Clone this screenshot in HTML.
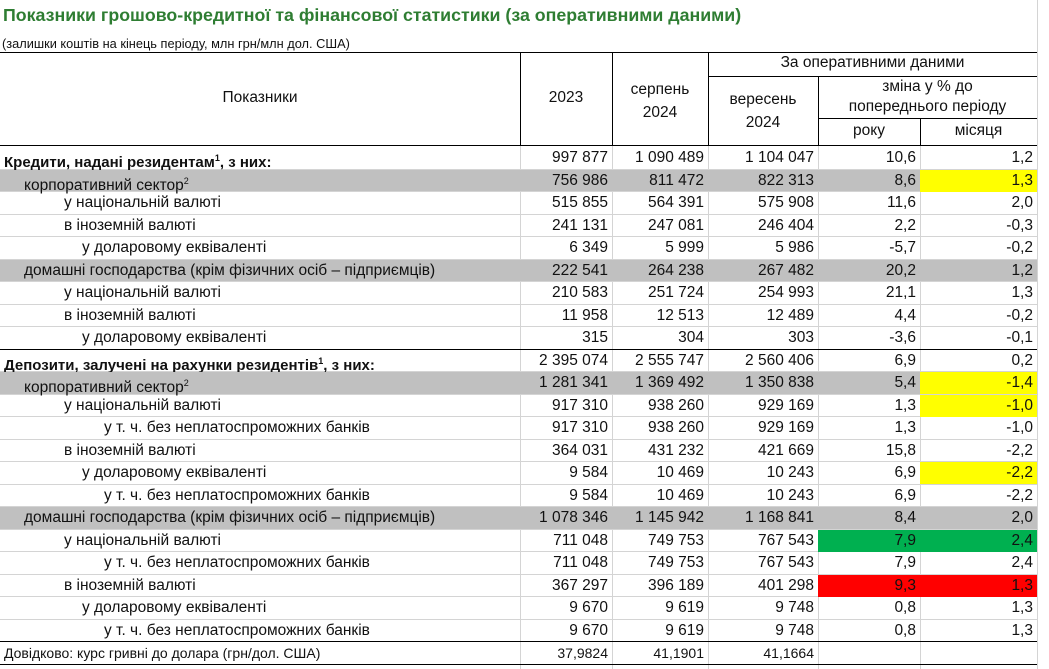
<!DOCTYPE html>
<html><head><meta charset="utf-8"><style>
*{margin:0;padding:0;box-sizing:border-box}
body{width:1049px;height:669px;background:#fff;position:relative;overflow:hidden;font-family:"Liberation Sans",sans-serif;font-size:15.5px;color:#111}
.a{position:absolute;white-space:nowrap}
.r{position:absolute;left:0;width:1037px;height:22.5px;border-bottom:1px solid #d4d4d4}
.r div{position:absolute;top:0;height:22px;line-height:22px;white-space:nowrap}
.g{background:#c0c0c0}
.l{left:4px}
.c{text-align:right;padding-right:4px}
.c1{left:520px;width:92px}.c2{left:612px;width:96px}.c3{left:708px;width:110px}.c4{left:818px;width:102px}.c5{left:920px;width:117px}
.y{background:#ffff00}.gr{background:#00b050}.rd{background:#ff0000}
.b{font-weight:bold;font-size:15px}
sup{font-size:9px}
.vl{position:absolute;width:1px;background:#d4d4d4}
.hk{position:absolute;background:#000}
</style></head><body>
<div class="a" style="left:3px;top:5px;font-size:17.8px;font-weight:bold;color:#2e7d32">Показники грошово-кредитної та фінансової статистики (за оперативними даними)</div>
<div class="a" style="left:2px;top:36px;font-size:12.8px">(залишки коштів на кінець періоду, млн грн/млн дол. США)</div>

<div class="vl" style="left:520px;top:52px;height:617px"></div>
<div class="vl" style="left:612px;top:52px;height:617px"></div>
<div class="vl" style="left:708px;top:52px;height:617px"></div>
<div class="vl" style="left:818px;top:76px;height:593px"></div>
<div class="vl" style="left:920px;top:118px;height:551px"></div>
<div class="vl" style="left:1037px;top:0;height:669px"></div>
<div class="hk" style="left:0;top:52px;width:1037px;height:1px"></div>
<div class="hk" style="left:520px;top:52px;width:1px;height:93px"></div>
<div class="hk" style="left:612px;top:52px;width:1px;height:93px"></div>
<div class="hk" style="left:708px;top:52px;width:1px;height:93px"></div>
<div class="hk" style="left:708px;top:76px;width:329px;height:1px"></div>
<div class="hk" style="left:818px;top:76px;width:1px;height:69px"></div>
<div class="hk" style="left:818px;top:118px;width:219px;height:1px"></div>
<div class="hk" style="left:920px;top:118px;width:1px;height:27px"></div>
<div class="hk" style="left:0;top:145px;width:1037px;height:1px"></div>
<div class="a" style="left:0;width:520px;text-align:center;top:89px">Показники</div>
<div class="a" style="left:520px;width:92px;text-align:center;top:89px">2023</div>
<div class="a" style="left:612px;width:96px;text-align:center;top:78px;line-height:23px">серпень<br>2024</div>
<div class="a" style="left:708px;width:110px;text-align:center;top:88px;line-height:23px">вересень<br>2024</div>
<div class="a" style="left:708px;width:329px;text-align:center;top:54px">За оперативними даними</div>
<div class="a" style="left:818px;width:219px;text-align:center;top:77px;line-height:20px">зміна у % до<br>попереднього періоду</div>
<div class="a" style="left:818px;width:102px;text-align:center;top:122px">року</div>
<div class="a" style="left:920px;width:117px;text-align:center;top:122px">місяця</div>

<div class="r" style="top:147px"><div class="l b">Кредити, надані резидентам<sup>1</sup>, з них:</div><div class="c c1">997 877</div><div class="c c2">1 090 489</div><div class="c c3">1 104 047</div><div class="c c4">10,6</div><div class="c c5">1,2</div></div>
<div class="r g" style="top:169.5px"><div class="l" style="left:24px">корпоративний сектор<sup>2</sup></div><div class="c c1">756 986</div><div class="c c2">811 472</div><div class="c c3">822 313</div><div class="c c4">8,6</div><div class="c c5 y">1,3</div></div>
<div class="r" style="top:192px"><div class="l" style="left:64px">у національній валюті</div><div class="c c1">515 855</div><div class="c c2">564 391</div><div class="c c3">575 908</div><div class="c c4">11,6</div><div class="c c5">2,0</div></div>
<div class="r" style="top:214.5px"><div class="l" style="left:64px">в іноземній валюті</div><div class="c c1">241 131</div><div class="c c2">247 081</div><div class="c c3">246 404</div><div class="c c4">2,2</div><div class="c c5">-0,3</div></div>
<div class="r" style="top:237px"><div class="l" style="left:82px">у доларовому еквіваленті</div><div class="c c1">6 349</div><div class="c c2">5 999</div><div class="c c3">5 986</div><div class="c c4">-5,7</div><div class="c c5">-0,2</div></div>
<div class="r g" style="top:259.5px"><div class="l" style="left:24px">домашні господарства (крім фізичних осіб – підприємців)</div><div class="c c1">222 541</div><div class="c c2">264 238</div><div class="c c3">267 482</div><div class="c c4">20,2</div><div class="c c5">1,2</div></div>
<div class="r" style="top:282px"><div class="l" style="left:64px">у національній валюті</div><div class="c c1">210 583</div><div class="c c2">251 724</div><div class="c c3">254 993</div><div class="c c4">21,1</div><div class="c c5">1,3</div></div>
<div class="r" style="top:304.5px"><div class="l" style="left:64px">в іноземній валюті</div><div class="c c1">11 958</div><div class="c c2">12 513</div><div class="c c3">12 489</div><div class="c c4">4,4</div><div class="c c5">-0,2</div></div>
<div class="r" style="top:327px;border-bottom:1px solid #000"><div class="l" style="left:82px">у доларовому еквіваленті</div><div class="c c1">315</div><div class="c c2">304</div><div class="c c3">303</div><div class="c c4">-3,6</div><div class="c c5">-0,1</div></div>
<div class="r" style="top:349.5px"><div class="l b">Депозити, залучені на рахунки резидентів<sup>1</sup>, з них:</div><div class="c c1">2 395 074</div><div class="c c2">2 555 747</div><div class="c c3">2 560 406</div><div class="c c4">6,9</div><div class="c c5">0,2</div></div>
<div class="r g" style="top:372px"><div class="l" style="left:24px">корпоративний сектор<sup>2</sup></div><div class="c c1">1 281 341</div><div class="c c2">1 369 492</div><div class="c c3">1 350 838</div><div class="c c4">5,4</div><div class="c c5 y">-1,4</div></div>
<div class="r" style="top:394.5px"><div class="l" style="left:64px">у національній валюті</div><div class="c c1">917 310</div><div class="c c2">938 260</div><div class="c c3">929 169</div><div class="c c4">1,3</div><div class="c c5 y">-1,0</div></div>
<div class="r" style="top:417px"><div class="l" style="left:104px">у т. ч. без неплатоспроможних банків</div><div class="c c1">917 310</div><div class="c c2">938 260</div><div class="c c3">929 169</div><div class="c c4">1,3</div><div class="c c5">-1,0</div></div>
<div class="r" style="top:439.5px"><div class="l" style="left:64px">в іноземній валюті</div><div class="c c1">364 031</div><div class="c c2">431 232</div><div class="c c3">421 669</div><div class="c c4">15,8</div><div class="c c5">-2,2</div></div>
<div class="r" style="top:462px"><div class="l" style="left:82px">у доларовому еквіваленті</div><div class="c c1">9 584</div><div class="c c2">10 469</div><div class="c c3">10 243</div><div class="c c4">6,9</div><div class="c c5 y">-2,2</div></div>
<div class="r" style="top:484.5px"><div class="l" style="left:104px">у т. ч. без неплатоспроможних банків</div><div class="c c1">9 584</div><div class="c c2">10 469</div><div class="c c3">10 243</div><div class="c c4">6,9</div><div class="c c5">-2,2</div></div>
<div class="r g" style="top:507px"><div class="l" style="left:24px">домашні господарства (крім фізичних осіб – підприємців)</div><div class="c c1">1 078 346</div><div class="c c2">1 145 942</div><div class="c c3">1 168 841</div><div class="c c4">8,4</div><div class="c c5">2,0</div></div>
<div class="r" style="top:529.5px"><div class="l" style="left:64px">у національній валюті</div><div class="c c1">711 048</div><div class="c c2">749 753</div><div class="c c3">767 543</div><div class="c c4 gr">7,9</div><div class="c c5 gr">2,4</div></div>
<div class="r" style="top:552px"><div class="l" style="left:104px">у т. ч. без неплатоспроможних банків</div><div class="c c1">711 048</div><div class="c c2">749 753</div><div class="c c3">767 543</div><div class="c c4">7,9</div><div class="c c5">2,4</div></div>
<div class="r" style="top:574.5px"><div class="l" style="left:64px">в іноземній валюті</div><div class="c c1">367 297</div><div class="c c2">396 189</div><div class="c c3">401 298</div><div class="c c4 rd">9,3</div><div class="c c5 rd">1,3</div></div>
<div class="r" style="top:597px"><div class="l" style="left:82px">у доларовому еквіваленті</div><div class="c c1">9 670</div><div class="c c2">9 619</div><div class="c c3">9 748</div><div class="c c4">0,8</div><div class="c c5">1,3</div></div>
<div class="r" style="top:619.5px;border-bottom:1px solid #000"><div class="l" style="left:104px">у т. ч. без неплатоспроможних банків</div><div class="c c1">9 670</div><div class="c c2">9 619</div><div class="c c3">9 748</div><div class="c c4">0,8</div><div class="c c5">1,3</div></div>
<div class="r" style="top:642px;border-bottom:1px solid #000;font-size:14px"><div class="l">Довідково: курс гривні до долара (грн/дол. США)</div><div class="c c1">37,9824</div><div class="c c2">41,1901</div><div class="c c3">41,1664</div></div>
</body></html>
